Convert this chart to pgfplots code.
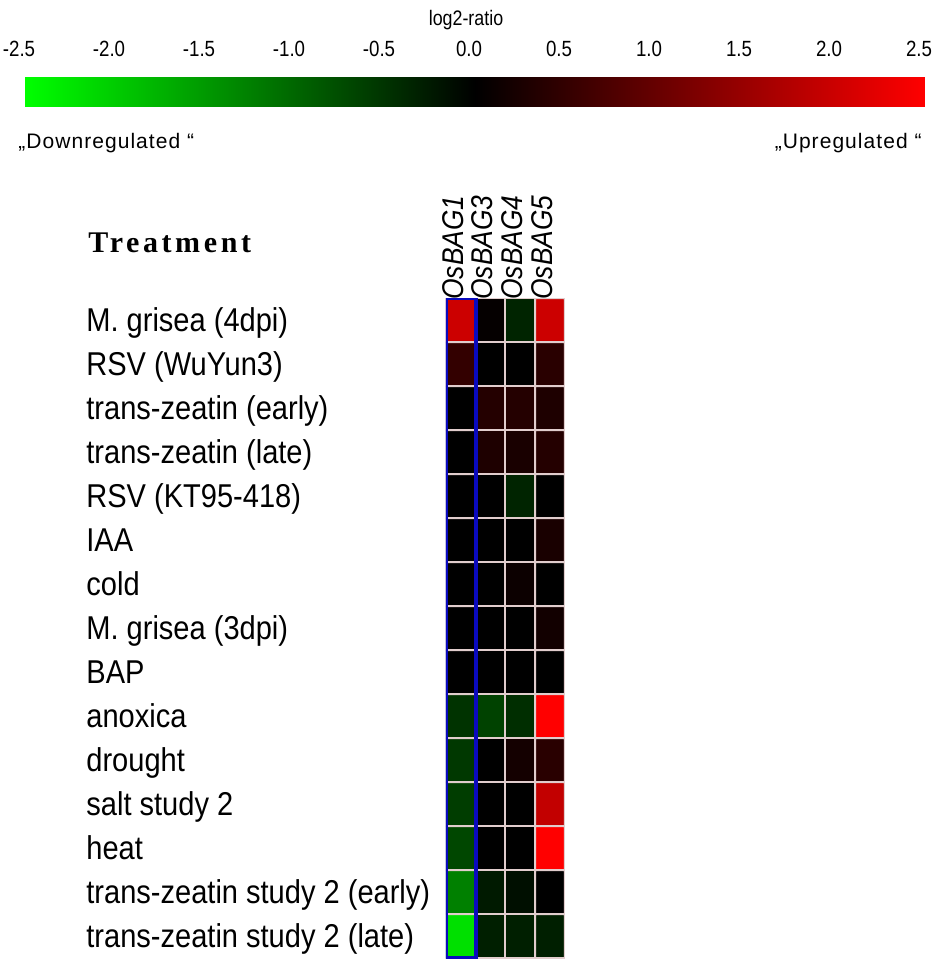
\documentclass[border=0pt]{standalone}
\usepackage{pgfplots}
\pgfplotsset{compat=1.18}
\usetikzlibrary{calc}
\usepackage{fontspec}
\setmainfont{Liberation Sans}
\newfontfamily\labfont[FakeStretch=0.88]{Liberation Sans}
\newfontfamily\tickfont[FakeStretch=0.85]{Liberation Sans}
\newfontfamily\regfont[LetterSpace=5]{Liberation Sans}
\newfontfamily\treatfont[LetterSpace=12]{Liberation Serif}
\pgfplotsset{colormap={gkr}{rgb255=(0,255,0) rgb255=(0,0,0) rgb255=(255,0,0)}}
\definecolor{gridc}{RGB}{225,205,205}
\definecolor{selblue}{RGB}{10,10,190}
\begin{document}
\begin{tikzpicture}
\useasboundingbox (0,0) rectangle (467.5pt,480pt);
\begin{axis}[
  at={(223pt,1pt)}, anchor=south west,
  scale only axis, width=59.5pt, height=330pt,
  xmin=-0.5, xmax=3.5, ymin=-0.5, ymax=14.5,
  enlargelimits=false, y dir=reverse,
  axis line style={draw=none}, major tick length=0pt,
  point meta min=-2.5, point meta max=2.5,
  xtick={0,1,2,3}, xticklabels={OsBAG1,OsBAG3,OsBAG4,OsBAG5},
  xticklabel pos=upper,
  xticklabel style={rotate=90, anchor=west, inner sep=0pt, xshift=-1pt, yshift=4pt,
    font=\labfont\itshape\fontsize{15}{17}\selectfont},
  ytick={0,...,14},
  yticklabels={M. grisea (4dpi),RSV (WuYun3),trans-zeatin (early),trans-zeatin (late),RSV (KT95-418),IAA,cold,M. grisea (3dpi),BAP,anoxica,drought,salt study 2,heat,trans-zeatin study 2 (early),trans-zeatin study 2 (late)},
  yticklabel style={anchor=base west, inner sep=0pt, xshift=-180pt, yshift=-5.9pt,
    font=\labfont\fontsize{16.5}{18}\selectfont},
  colorbar horizontal,
  colorbar style={
    at={($(parent axis.south west)+(-210.5pt,434.5pt)$)}, anchor=south west,
    scale only axis, width=450pt, height=17.5pt,
    y dir=normal,
    axis line style={draw=none}, major tick length=0pt,
    xtick={-2.5,-2,-1.5,-1,-0.5,0,0.5,1,1.5,2,2.5},
    xticklabels={-2.5,-2.0,-1.5,-1.0,-0.5,0.0,0.5,1.0,1.5,2.0,2.5},
    xticklabel pos=upper,
    xticklabel style={inner sep=0pt, yshift=7pt, xshift=-3pt, font=\tickfont\fontsize{11}{12}\selectfont},
  },
]
\addplot[matrix plot*, mesh/cols=4, point meta=explicit, draw=gridc, line width=1pt]
table[meta=c] {
x y c
0 0 2.0
1 0 0.05
2 0 -0.35
3 0 2.0
0 1 0.5
1 1 0.0
2 1 0.0
3 1 0.4
0 2 0.0
1 2 0.35
2 2 0.35
3 2 0.3
0 3 0.0
1 3 0.3
2 3 0.25
3 3 0.35
0 4 0.0
1 4 0.0
2 4 -0.35
3 4 0.0
0 5 0.0
1 5 0.0
2 5 0.0
3 5 0.25
0 6 0.0
1 6 0.0
2 6 0.12
3 6 0.0
0 7 0.0
1 7 0.0
2 7 0.0
3 7 0.18
0 8 0.0
1 8 0.0
2 8 0.0
3 8 0.0
0 9 -0.5
1 9 -0.65
2 9 -0.45
3 9 2.5
0 10 -0.55
1 10 0.0
2 10 0.2
3 10 0.4
0 11 -0.6
1 11 0.0
2 11 0.0
3 11 1.9
0 12 -0.7
1 12 0.0
2 12 0.0
3 12 2.5
0 13 -1.25
1 13 -0.25
2 13 -0.15
3 13 0.0
0 14 -2.2
1 14 -0.3
2 14 -0.3
3 14 -0.3
};
\draw[selblue, line width=2pt] (axis cs:-0.5,-0.5) rectangle (axis cs:0.5,14.5);
\end{axis}
\node[anchor=west, inner sep=0pt, font=\treatfont\bfseries\fontsize{15}{17}\selectfont] at (44pt,358.5pt) {Treatment};
\node[inner sep=0pt, font=\tickfont\fontsize{10.5}{12}\selectfont] at (233pt,470pt) {log2-ratio};
\node[anchor=west, inner sep=0pt, font=\regfont\fontsize{10.5}{12}\selectfont] at (9pt,408.5pt) {„Downregulated “};
\node[anchor=east, inner sep=0pt, font=\regfont\fontsize{10.5}{12}\selectfont] at (461pt,408.5pt) {„Upregulated “};
\end{tikzpicture}
\end{document}
